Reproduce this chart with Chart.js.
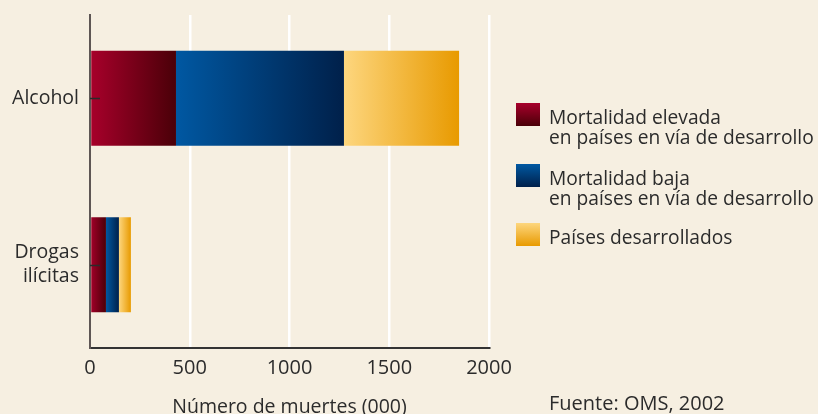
<!DOCTYPE html>
<html>
<head>
<meta charset="utf-8">
<script src="https://cdn.jsdelivr.net/npm/chart.js@4.4.1/dist/chart.umd.min.js"></script>
<style>
  html, body { margin: 0; padding: 0; background: #f6efe1; }
  #wrap { position: relative; width: 818px; height: 414px; font-family: "Open Sans", sans-serif; color: #2b2b2b; }
  canvas { position: absolute; left: 0; top: 0; }
  .leg { position: absolute; left: 516px; font-size: 19.2px; line-height: 20px; }
  .leg .sw { position: absolute; left: 0; top: 0; width: 24px; height: 23px; }
  .leg .tx { position: absolute; left: 33px; top: 4px; white-space: nowrap; }
  #src { position: absolute; left: 549px; top: 393px; font-size: 20px; line-height: 20px; white-space: nowrap; }
</style>
</head>
<body>
<div id="wrap">
  <canvas id="chart" width="818" height="414"></canvas>
  <div class="leg" style="top:103px"><div class="sw" style="background:linear-gradient(#a8002b,#4a0008)"></div><div class="tx">Mortalidad elevada<br>en países en vía de desarrollo</div></div>
  <div class="leg" style="top:164px"><div class="sw" style="background:linear-gradient(#0058a2,#00204a)"></div><div class="tx">Mortalidad baja<br>en países en vía de desarrollo</div></div>
  <div class="leg" style="top:223px"><div class="sw" style="background:linear-gradient(#fdd67e,#e89a00)"></div><div class="tx">Países desarrollados</div></div>
  <div id="src">Fuente: OMS, 2002</div>
</div>
<script>
// Muertes atribuibles (miles), OMS 2002
const categories = [['Alcohol'], ['Drogas', 'ilícitas']];
const seriesNames = [
  'Mortalidad elevada en países en vía de desarrollo',
  'Mortalidad baja en países en vía de desarrollo',
  'Países desarrollados'
];
const altaMortalidad = [431, 80];
const bajaMortalidad = [842, 65];
const desarrollados  = [577, 60];
const xTicks = [0, 500, 1000, 1500, 2000];

const series = [altaMortalidad, bajaMortalidad, desarrollados];
const gradColors = [
  ['#a8002b', '#4a0008'],
  ['#0058a2', '#00204a'],
  ['#fdd67e', '#e89a00']
];
const FONT = 'Open Sans';

// degradado horizontal por segmento, calculado con la escala x
function segGradient(ctx) {
  const chart = ctx.chart;
  const xs = chart.scales.x;
  const i = ctx.datasetIndex, j = ctx.dataIndex;
  if (!xs || j === undefined) return gradColors[i][0];
  let start = 0;
  for (let k = 0; k < i; k++) start += series[k][j];
  const x0 = xs.getPixelForValue(start);
  const x1 = xs.getPixelForValue(start + series[i][j]);
  if (!isFinite(x0) || !isFinite(x1)) return gradColors[i][0];
  const g = chart.ctx.createLinearGradient(x0, 0, x1, 0);
  g.addColorStop(0, gradColors[i][0]);
  g.addColorStop(1, gradColors[i][1]);
  return g;
}

// pequeñas marcas hacia dentro en cada categoría
const innerTicks = {
  id: 'innerTicks',
  afterDraw(chart) {
    const { ctx, scales: { x, y } } = chart;
    ctx.save();
    ctx.strokeStyle = '#2b2b2b';
    ctx.lineWidth = 1.5;
    categories.forEach((c, i) => {
      const py = Math.round(y.getPixelForValue(i)) + 0.5;
      ctx.beginPath();
      ctx.moveTo(x.left, py);
      ctx.lineTo(x.left + 10, py);
      ctx.stroke();
    });
    ctx.restore();
  }
};

new Chart(document.getElementById('chart'), {
  type: 'bar',
  data: {
    labels: categories,
    datasets: series.map((d, i) => ({
      label: seriesNames[i],
      data: d,
      backgroundColor: segGradient,
      borderWidth: 0,
      categoryPercentage: 1,
      barPercentage: 0.57
    }))
  },
  options: {
    indexAxis: 'y',
    responsive: false,
    animation: false,
    layout: { padding: { top: 15, right: 329, left: 0, bottom: 0 } },
    plugins: { legend: { display: false }, tooltip: { enabled: false } },
    scales: {
      x: {
        stacked: true,
        min: 0, max: 2000,
        afterBuildTicks: (s) => { s.ticks = xTicks.map(v => ({ value: v })); },
        afterFit: (s) => { s.height = 66; s.paddingLeft = 0; s.paddingRight = 0; },
        grid: {
          color: (c) => c.tick && c.tick.value === 0 ? 'rgba(0,0,0,0)' : '#ffffff',
          lineWidth: 2.5,
          drawTicks: false
        },
        border: { color: '#333333', width: 2 },
        ticks: {
          padding: 8, color: '#2b2b2b', font: { family: FONT, size: 20 },
          callback: (v) => String(v)
        },
        title: {
          display: true,
          text: 'Número de muertes (000)',
          color: '#2b2b2b',
          font: { family: FONT, size: 19.5 },
          padding: { top: 8, bottom: -5 }
        }
      },
      y: {
        stacked: true,
        afterFit: (s) => { s.width = 90; s.paddingTop = 0; s.paddingBottom = 0; },
        grid: { display: false, drawTicks: false },
        border: { color: '#5e5654', width: 2 },
        ticks: {
          padding: 11,
          color: '#2b2b2b',
          font: { family: FONT, size: 19.5, lineHeight: 1.23 }
        }
      }
    }
  },
  plugins: [innerTicks]
});
</script>
</body>
</html>
